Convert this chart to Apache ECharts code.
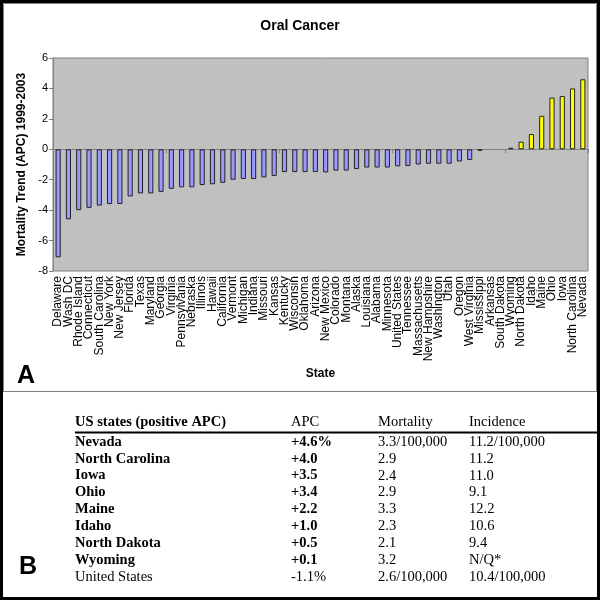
<!DOCTYPE html>
<html>
<head>
<meta charset="utf-8">
<script src="https://cdn.jsdelivr.net/npm/echarts@6/dist/echarts.min.js"></script>
<style>html,body{margin:0;padding:0;background:#fff}#c{width:600px;height:600px}</style>
</head>
<body>
<div id="c"></div>
<script>
var states = ["Delaware","Wash DC","Rhode Island","Connecticut","South Carolina","New York","New Jersey","Florida","Texas","Maryland","Georgia","Virginia","Pennsylvania","Nebraska","Illinois","Hawaii","California","Vermont","Michigan","Indiana","Missouri","Kansas","Kentucky","Wisconsin","Oklahoma","Arizona","New Mexico","Colorado","Montana","Alaska","Louisiana","Alabama","Minnesota","United States","Tennessee","Massachusetts","New Hampshire","Washington","Utah","Oregon","West Virginia","Mississippi","Arkansas","South Dakota","Wyoming","North Dakota","Idaho","Maine","Ohio","Iowa","North Carolina","Nevada"];
var apc = [-7.1,-4.6,-4.0,-3.85,-3.7,-3.6,-3.6,-3.1,-2.9,-2.9,-2.8,-2.6,-2.5,-2.5,-2.35,-2.3,-2.2,-2.0,-1.95,-1.95,-1.85,-1.75,-1.5,-1.5,-1.5,-1.5,-1.52,-1.4,-1.4,-1.3,-1.2,-1.2,-1.2,-1.12,-1.1,-1.0,-0.95,-0.95,-0.95,-0.8,-0.7,-0.1,0,0,0.1,0.5,1.0,2.2,3.4,3.5,4.0,4.6];
var yTicks = {min: -8, max: 6, interval: 2};

var tableHeader = ["US states (positive APC)", "APC", "Mortality", "Incidence"];
var tableStates = ["Nevada","North Carolina","Iowa","Ohio","Maine","Idaho","North Dakota","Wyoming","United States"];
var tableAPC = ["+4.6%","+4.0","+3.5","+3.4","+2.2","+1.0","+0.5","+0.1","-1.1%"];
var tableMortality = ["3.3/100,000","2.9","2.4","2.9","3.3","2.3","2.1","3.2","2.6/100,000"];
var tableIncidence = ["11.2/100,000","11.2","11.0","9.1","12.2","10.6","9.4","N/Q*","10.4/100,000"];

var chart = echarts.init(document.getElementById('c'));
var sans = "Arial, 'Liberation Sans', sans-serif";
var serif = "'Times New Roman', 'Liberation Serif', serif";

var graphics = [];
graphics.push({type:'rect', shape:{x:1.5,y:1.5,width:597,height:597}, style:{fill:'none', stroke:'#000', lineWidth:3}, z:100});
graphics.push({type:'rect', shape:{x:3.5,y:3.5,width:593,height:388}, style:{fill:'none', stroke:'#808080', lineWidth:1}, z:100});
graphics.push({type:'text', x:26, y:376, style:{text:'A', font:'bold 25px ' + sans, fill:'#000', textAlign:'center', textVerticalAlign:'middle'}});
graphics.push({type:'text', x:28, y:567, style:{text:'B', font:'bold 25px ' + sans, fill:'#000', textAlign:'center', textVerticalAlign:'middle'}});

var colX = [75, 291, 378, 469];
var headerY = 422;
var rowY0 = 442, rowStep = 16.85;
var fs = 14.5;
tableHeader.forEach(function(t, i){
  graphics.push({type:'text', x:colX[i], y:headerY, style:{text:t, font:(i===0?'bold ':'') + fs + 'px ' + serif, fill:'#000', textAlign:'left', textVerticalAlign:'middle'}});
});
graphics.push({type:'line', shape:{x1:75,y1:432.5,x2:598,y2:432.5}, style:{stroke:'#000', lineWidth:2}});
tableStates.forEach(function(s, r){
  var y = rowY0 + r * rowStep;
  var bold = r < tableStates.length - 1;
  var cells = [s, tableAPC[r], tableMortality[r], tableIncidence[r]];
  cells.forEach(function(t, i){
    var b = bold && i < 2;
    graphics.push({type:'text', x:colX[i], y:y, style:{text:t, font:(b?'bold ':'') + fs + 'px ' + serif, fill:'#000', textAlign:'left', textVerticalAlign:'middle'}});
  });
});

var option = {
  animation: false,
  backgroundColor: '#fff',
  title: {text:'Oral Cancer', left:'center', top:14, textStyle:{fontFamily:sans, fontSize:14, fontWeight:'bold', color:'#000'}},
  grid: {left:53, right:12, top:58, bottom:329, show:true, backgroundColor:'#C0C0C0', borderColor:'#808080', borderWidth:1},
  xAxis: [
    {type:'category', data:states, position:'bottom',
     axisLine:{show:false, onZero:false}, axisTick:{show:false},
     axisLabel:{interval:0, rotate:90, fontFamily:sans, fontSize:12, color:'#000', margin:5},
     name:'State', nameLocation:'middle', nameGap:97,
     nameTextStyle:{fontFamily:sans, fontSize:12, fontWeight:'bold', color:'#000'}},
    {type:'category', data:states, position:'bottom',
     axisLine:{show:true, onZero:true, lineStyle:{color:'#808080', width:1}},
     axisTick:{show:true, length:4, lineStyle:{color:'#808080'}},
     axisLabel:{show:false}}
  ],
  yAxis: {type:'value', min:yTicks.min, max:yTicks.max, interval:yTicks.interval,
    splitLine:{show:false},
    axisLine:{show:true, lineStyle:{color:'#808080'}},
    axisTick:{show:true, length:4, lineStyle:{color:'#808080'}},
    axisLabel:{fontFamily:sans, fontSize:11, color:'#000', margin:5},
    name:'Mortality Trend (APC) 1999-2003', nameLocation:'middle', nameGap:22, nameRotate:90,
    nameTextStyle:{fontFamily:sans, fontSize:12, fontWeight:'bold', color:'#000'}},
  series: [{
    type:'bar', xAxisIndex:0, barWidth:'50%',
    data: apc.map(function(v){
      return {value:v, itemStyle:{color: v > 0 ? '#FFFF00' : '#9999FF', borderColor:'#222', borderWidth: v === 0 ? 0 : 1}};
    })
  }],
  graphic: graphics
};
chart.setOption(option);
</script>
</body>
</html>
